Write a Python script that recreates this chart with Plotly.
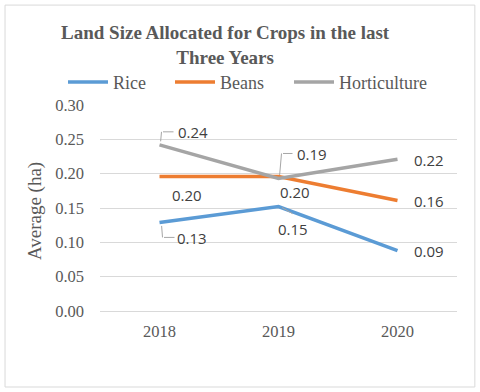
import plotly.graph_objects as go

# Chart data
years = ["2018", "2019", "2020"]
rice = [0.129, 0.152, 0.088]
beans = [0.196, 0.196, 0.161]
horticulture = [0.242, 0.193, 0.221]
y_ticks = [0.00, 0.05, 0.10, 0.15, 0.20, 0.25, 0.30]

series = [
    ("Rice", rice, "#5B9BD5"),
    ("Beans", beans, "#ED7D31"),
    ("Horticulture", horticulture, "#A5A5A5"),
]

# Label placement in px from the point (dx right, dy down) and leader line vertices
label_offsets = {
    "Rice": [(32, 16, [(2, 2), (3, 15), (15, 15)]),
             (14, 22, [(2, 0), (14, 7)]),
             (31, 0, None)],
    "Beans": [(27, 19, None), (16, 16, None), (31, 1, None)],
    "Horticulture": [(33, -13, [(1, -2), (2, -13), (14, -13)]),
                     (33, -24, [(1, -2), (3, -25), (14, -25)]),
                     (31, 1, None)],
}
# one legend per series so the entries can sit where Excel put them
legend_x = [63, 170, 289]

serif = "Liberation Serif, Times New Roman, serif"
grey_text = "#595959"
xpos = list(range(len(years)))

fig = go.Figure()
annotations = []
legends = {}
for i, (name, values, color) in enumerate(series):
    lg = "legend" if i == 0 else f"legend{i + 1}"
    legends[lg] = dict(orientation="h", xref="container", x=legend_x[i] / 480,
                       xanchor="left", y=1.11, yanchor="middle", itemwidth=40,
                       font=dict(family=serif, size=18, color=grey_text),
                       bgcolor="rgba(0,0,0,0)")
    fig.add_trace(go.Scatter(x=xpos, y=values, name=name, mode="lines", legend=lg,
                             line=dict(color=color, width=3.5)))
    for xi, val, (dx, dy, leader) in zip(xpos, values, label_offsets[name]):
        annotations.append(dict(
            x=xi, y=val, text=f"{val:.2f}", xref="x", yref="y", showarrow=False,
            xshift=dx, yshift=-dy,
            font=dict(family="Open Sans, Arial, sans-serif", size=15, color="#404040")))
        if leader:
            # draw the leader line segment by segment
            for p, q in zip(leader[:-1], leader[1:]):
                annotations.append(dict(
                    x=xi, y=val, text="", xref="x", yref="y", showarrow=True,
                    arrowhead=0, arrowwidth=1, arrowcolor="#a6a6a6",
                    xshift=q[0], yshift=-q[1], ax=p[0] - q[0], ay=p[1] - q[1],
                    standoff=0, startstandoff=0))

# y axis title
annotations.append(dict(text="Average (ha)", xref="paper", yref="paper",
                        x=-0.182, y=0.485, xanchor="center", yanchor="middle",
                        textangle=-90, showarrow=False,
                        font=dict(family=serif, size=19, color=grey_text)))

fig.update_layout(
    width=480, height=392,
    margin=dict(l=100, r=23, t=105, b=81, autoexpand=False),
    paper_bgcolor="white", plot_bgcolor="white",
    title=dict(text="<b>Land Size Allocated for Crops in the last<br>Three Years</b>",
               x=0.469, xanchor="center", y=0.9005, yanchor="middle",
               font=dict(family=serif, size=19, color=grey_text)),
    annotations=annotations,
    showlegend=True,
    **legends,
)

fig.update_xaxes(range=[-0.5, len(years) - 0.5], tickvals=xpos, ticktext=years,
                 showgrid=False, showline=True, linecolor="#d9d9d9",
                 linewidth=1, zeroline=False,
                 ticks="outside", ticklen=5, tickcolor="rgba(0,0,0,0)",
                 tickfont=dict(family=serif, size=16.5, color=grey_text))
fig.update_yaxes(range=[0, 0.30], tickvals=y_ticks, tickformat=".2f",
                 showgrid=True, gridcolor="#d9d9d9", gridwidth=1, zeroline=False,
                 ticks="", ticklabelstandoff=15,
                 tickfont=dict(family=serif, size=16.5, color=grey_text))

# Outer chart border
fig.add_shape(type="rect", xref="paper", yref="paper",
              x0=-0.266, x1=1.050, y0=-0.369, y1=1.485,
              line=dict(color="#d9d9d9", width=1), fillcolor="rgba(0,0,0,0)")

fig.write_html("out.html", config={"displayModeBar": False},
               post_script="document.body.style.margin='0';")
